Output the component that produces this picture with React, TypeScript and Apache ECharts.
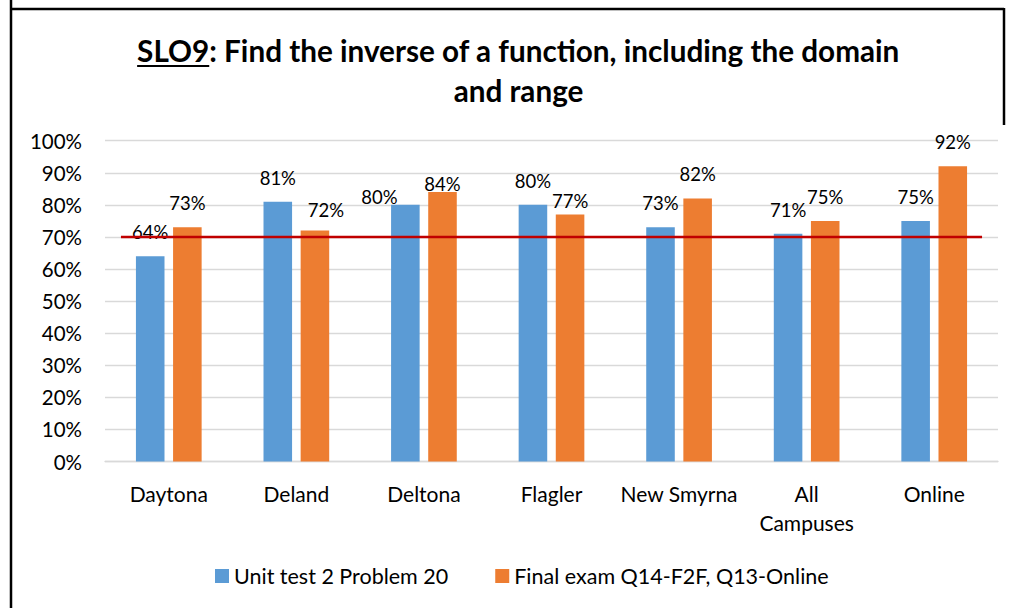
import React, { useEffect, useRef } from "react";
import * as echarts from "echarts";

const CATEGORIES = ["Daytona", "Deland", "Deltona", "Flagler", "New Smyrna", "All Campuses", "Online"];
const UNIT_TEST = [64, 81, 80, 80, 73, 71, 75];
const FINAL_EXAM = [73, 72, 84, 77, 82, 75, 92];
const SERIES_NAMES = ["Unit test 2 Problem 20", "Final exam Q14-F2F, Q13-Online"];
const TARGET = 70;
const Y_MIN = 0;
const Y_MAX = 100;
const Y_INTERVAL = 10;
const TITLE_TAG = "SLO9";
const TITLE_LINE1 = ": Find the inverse of a function, including the domain";
const TITLE_LINE2 = "and range";

// label nudges (px) to mimic the original's label placement
const BLUE_LABEL_OFFSETS = [[0, 0], [0, 0], [-26, 16], [0, 0], [0, 0], [0, 0], [0, 0]];
const ORANGE_LABEL_OFFSETS = [[0, 0], [11, 3], [0, 16], [0, 11], [0, 0], [0, 0], [0, 0]];
// target line extent, in category-band units
const TARGET_SPAN_INSET = 0.125;

const FONT = 'Lato, "Noto Sans", sans-serif';
const BLUE = "#5B9BD5";
const ORANGE = "#ED7D31";
const GRID_GRAY = "#D9D9D9";

function measure(text: string, font: string): number {
  const c = document.createElement("canvas");
  const ctx = c.getContext("2d")!;
  ctx.font = font;
  return ctx.measureText(text).width;
}

export default function App() {
  const ref = useRef<HTMLDivElement>(null);
  useEffect(() => {
    if (!ref.current) return;
    const chart = echarts.init(ref.current, undefined, { renderer: "svg" });

    // title layout: fit line 1 to the original's width
    const baseSize = 25;
    const full = TITLE_TAG + TITLE_LINE1;
    const wBase = measure(full, `bold ${baseSize}px ${FONT}`);
    const titleSize = Math.min(31, (baseSize * 763) / wBase);
    const titleFont = `bold ${titleSize}px ${FONT}`;
    const w1 = measure(full, titleFont);
    const wTag = measure(TITLE_TAG, titleFont);
    const titleCenter = 518.5;
    const left1 = titleCenter - w1 / 2;

    const mkBar = (name: string, values: number[], color: string, offsets: number[][]) => ({
      type: "bar",
      name,
      barGap: "30%",
      barCategoryGap: "48.5%",
      itemStyle: { color },
      label: {
        show: true,
        position: "top",
        distance: 14,
        fontFamily: FONT,
        fontSize: 18.5,
        lineHeight: 20,
        color: "#000",
        formatter: "{c}%",
      },
      data: values.map((v, i) => ({ value: v, label: { offset: offsets[i] } })),
    });

    chart.setOption({
      animation: false,
      textStyle: { fontFamily: FONT },
      grid: { left: 105, right: 12, top: 140.7, bottom: 146.5, containLabel: false },
      xAxis: [
        {
          type: "category",
          data: CATEGORIES,
          axisLine: { lineStyle: { color: GRID_GRAY, width: 1.3 } },
          axisTick: { show: false },
          axisLabel: {
            interval: 0,
            fontFamily: FONT,
            fontSize: 21,
            lineHeight: 29,
            color: "#000",
            margin: 17,
            formatter: (v: string) => (v.length > 11 ? v.replace(" ", "\n") : v),
          },
        },
        { type: "value", min: 0, max: CATEGORIES.length, show: false },
      ],
      yAxis: {
        type: "value",
        min: Y_MIN,
        max: Y_MAX,
        interval: Y_INTERVAL,
        axisLine: { show: false },
        axisTick: { show: false },
        axisLabel: { formatter: "{value}%", fontFamily: FONT, fontSize: 20.5, color: "#000", margin: 23 },
        splitLine: { lineStyle: { color: GRID_GRAY, width: 1.3 } },
      },
      legend: {
        data: SERIES_NAMES,
        left: 210,
        top: 560,
        icon: "rect",
        itemWidth: 14,
        itemHeight: 14,
        itemGap: 47,
        textStyle: { fontFamily: FONT, fontSize: 21.5, lineHeight: 22, color: "#000" },
      },
      series: [
        mkBar(SERIES_NAMES[0], UNIT_TEST, BLUE, BLUE_LABEL_OFFSETS),
        mkBar(SERIES_NAMES[1], FINAL_EXAM, ORANGE, ORANGE_LABEL_OFFSETS),
        {
          type: "line",
          name: "Target",
          xAxisIndex: 1,
          yAxisIndex: 0,
          symbol: "none",
          silent: true,
          lineStyle: { color: "#C00000", width: 2.5 },
          data: [
            [TARGET_SPAN_INSET, TARGET],
            [CATEGORIES.length - TARGET_SPAN_INSET, TARGET],
          ],
        },
      ],
      graphic: [
        { type: "line", shape: { x1: 11, y1: 0, x2: 11, y2: 608 }, style: { stroke: "#000", lineWidth: 2.5 } },
        { type: "line", shape: { x1: 10, y1: 9, x2: 1004, y2: 9 }, style: { stroke: "#000", lineWidth: 2.5 } },
        { type: "line", shape: { x1: 1004, y1: 8, x2: 1004, y2: 125 }, style: { stroke: "#000", lineWidth: 2.5 } },
        {
          type: "text",
          x: left1,
          y: 50,
          style: {
            text: full,
            font: titleFont,
            fill: "#000",
            align: "left",
            verticalAlign: "middle",
          },
        },
        {
          type: "line",
          shape: { x1: left1, y1: 66, x2: left1 + wTag, y2: 66 },
          style: { stroke: "#000", lineWidth: 2 },
        },
        {
          type: "text",
          x: titleCenter,
          y: 90,
          style: {
            text: TITLE_LINE2,
            font: titleFont,
            fill: "#000",
            align: "center",
            verticalAlign: "middle",
          },
        },
      ],
    });
    return () => chart.dispose();
  }, []);
  return (
    <div
      ref={ref}
      style={{ position: "fixed", left: 0, top: 0, width: 1010, height: 608, background: "#fff" }}
    />
  );
}
